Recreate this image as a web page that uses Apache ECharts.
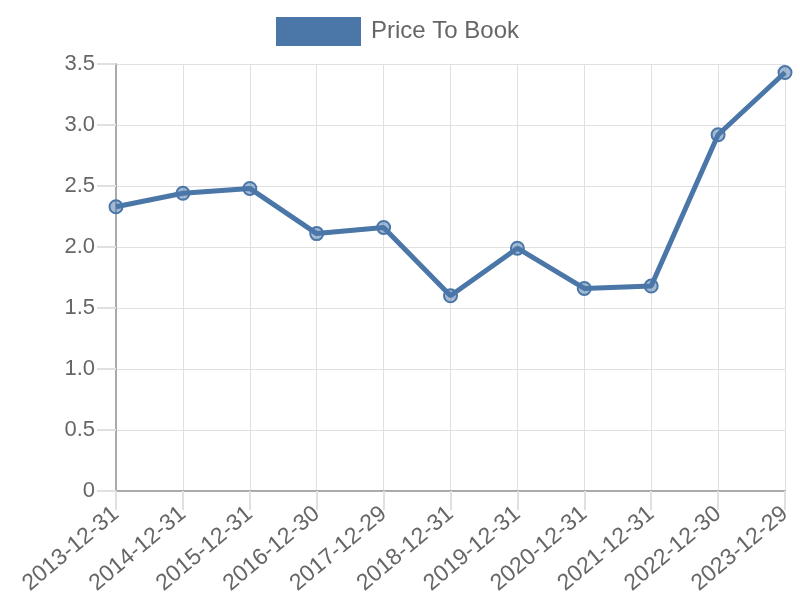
<!DOCTYPE html>
<html>
<head>
<meta charset="utf-8">
<script src="https://cdn.jsdelivr.net/npm/echarts@6/dist/echarts.min.js"></script>
<style>html,body{margin:0;padding:0;background:#fff;}#c{width:800px;height:600px;}</style>
</head>
<body>
<div id="c"></div>
<script>
const categories = ['2013-12-31','2014-12-31','2015-12-31','2016-12-30','2017-12-29','2018-12-31','2019-12-31','2020-12-31','2021-12-31','2022-12-30','2023-12-29'];
const priceToBook = [2.33, 2.44, 2.48, 2.11, 2.16, 1.60, 1.99, 1.66, 1.68, 2.92, 3.43];
const seriesName = 'Price To Book';

const chart = echarts.init(document.getElementById('c'));
const font = 'Liberation Sans, Arial, sans-serif';
chart.setOption({
  animation: false,
  textStyle: { fontFamily: font },
  legend: {
    top: 12, left: 271,
    itemWidth: 85, itemHeight: 29, itemGap: 10,
    icon: 'rect',
    textStyle: { fontSize: 24, color: '#666', fontFamily: font, padding: [0, 0, 0, 5] },
    data: [{ name: seriesName, itemStyle: { color: '#4a76a8', borderWidth: 0 } }]
  },
  grid: { left: 116, right: 15, top: 64, bottom: 109, containLabel: false },
  xAxis: {
    type: 'category', data: categories, boundaryGap: false,
    axisLine: { lineStyle: { color: '#aaa', width: 2 } },
    axisTick: { show: true, length: 19, lineStyle: { color: '#e0e0e0', width: 2 } },
    splitLine: { show: true, lineStyle: { color: '#e0e0e0', width: 1 } },
    axisLabel: { rotate: 40, fontSize: 23, color: '#666', margin: 20, interval: 0, fontFamily: font }
  },
  yAxis: {
    type: 'value', min: 0, max: 3.5, interval: 0.5,
    axisLine: { show: true, lineStyle: { color: '#aaa', width: 2 } },
    axisTick: { show: true, length: 19, lineStyle: { color: '#e0e0e0', width: 2 } },
    splitLine: { show: true, lineStyle: { color: '#e0e0e0', width: 1 } },
    axisLabel: { fontSize: 22, color: '#666', margin: 21, fontFamily: font,
      formatter: v => v === 0 ? '0' : v.toFixed(1) }
  },
  series: [{
    name: seriesName, type: 'line', data: priceToBook,
    symbol: 'circle', symbolSize: 13,
    lineStyle: { color: '#4a76a8', width: 5 },
    itemStyle: { color: 'rgba(74,118,168,0.5)', borderColor: '#4a76a8', borderWidth: 2 }
  }]
});
</script>
</body>
</html>
